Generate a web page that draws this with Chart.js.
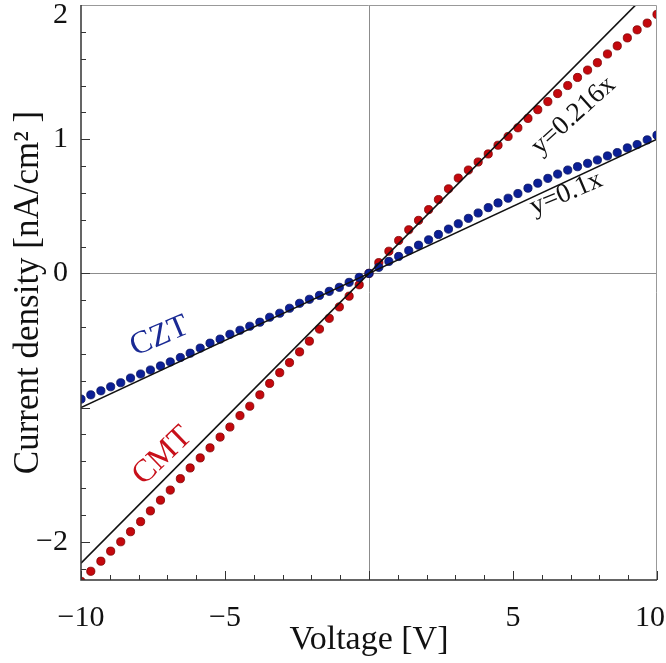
<!DOCTYPE html>
<html>
<head>
<meta charset="utf-8">
<script src="https://cdn.jsdelivr.net/npm/chart.js@4.4.1/dist/chart.umd.min.js"></script>
<style>
  html, body { margin: 0; padding: 0; background: #fff; }
</style>
</head>
<body>
<canvas id="ivChart" width="666" height="663"></canvas>
<script>
// bias voltage [V]
const voltage = [
    -10, -9.66, -9.31, -8.97, -8.62, -8.28, -7.93, -7.59, -7.24, -6.9,
    -6.55, -6.21, -5.86, -5.52, -5.17, -4.83, -4.48, -4.14, -3.79, -3.45,
    -3.1, -2.76, -2.41, -2.07, -1.72, -1.38, -1.03, -0.69, -0.34, 0,
    0.34, 0.69, 1.03, 1.38, 1.72, 2.07, 2.41, 2.76, 3.1, 3.45,
    3.79, 4.14, 4.48, 4.83, 5.17, 5.52, 5.86, 6.21, 6.55, 6.9,
    7.24, 7.59, 7.93, 8.28, 8.62, 8.97, 9.31, 9.66, 10
];

// current density [nA/cm2]
const cztCurrent = [
    -0.937, -0.905, -0.875, -0.845, -0.815, -0.78, -0.75, -0.72, -0.69, -0.66,
    -0.627, -0.595, -0.557, -0.52, -0.49, -0.454, -0.424, -0.394, -0.364, -0.327,
    -0.297, -0.26, -0.223, -0.193, -0.164, -0.134, -0.104, -0.067, -0.03, 0,
    0.045, 0.089, 0.126, 0.17, 0.21, 0.25, 0.29, 0.33, 0.37, 0.41,
    0.45, 0.49, 0.525, 0.56, 0.595, 0.635, 0.672, 0.708, 0.74, 0.77,
    0.795, 0.82, 0.845, 0.875, 0.9, 0.935, 0.96, 0.995, 1.03
];
const cmtCurrent = [
    -2.295, -2.22, -2.145, -2.07, -2.0, -1.925, -1.85, -1.77, -1.69, -1.615,
    -1.53, -1.45, -1.375, -1.3, -1.22, -1.145, -1.06, -0.99, -0.905, -0.82,
    -0.74, -0.665, -0.585, -0.505, -0.415, -0.335, -0.25, -0.17, -0.085, 0,
    0.08, 0.165, 0.245, 0.325, 0.395, 0.475, 0.55, 0.63, 0.71, 0.77,
    0.83, 0.89, 0.955, 1.02, 1.085, 1.155, 1.22, 1.28, 1.34, 1.4,
    1.46, 1.515, 1.57, 1.635, 1.695, 1.755, 1.815, 1.865, 1.93
];

// linear fits (end points)
const fitVoltage = [-10, 10];
const cztFit = [-1.0, 1.0];
const cmtFit = [-2.16, 2.16];

// ticks
const xTicks = [-10, -5, 0, 5, 10];
const xTickLabels = ['\u221210', '\u22125', '', '5', '10'];
const yTicks = [-2, -1, 0, 1, 2];
const yTickLabels = ['\u22122', '', '0', '1', '2'];

const serif = '"Liberation Serif", "Times New Roman", serif';

// text put on the plot, in data units
const notes = [
    { text: 'CZT', x: -7.27, y: -0.47, angle: -23, color: '#1a2a94', size: 32 },
    { text: 'CMT', x: -7.17, y: -1.36, angle: -44, color: '#c8101a', size: 32 },
    { text: 'y=0.216x', x: 7.1, y: 1.175, angle: -42, color: '#111', size: 27 },
    { text: 'y=0.1x', x: 6.85, y: 0.595, angle: -23, color: '#111', size: 27 }
];

function toPoints(xs, ys) {
    return xs.map((v, i) => ({ x: v, y: ys[i] }));
}

// frame, inward ticks, tick labels and notes
const framePlugin = {
    id: 'frame',
    afterDraw(chart) {
        const { ctx, chartArea: a } = chart;
        const x = chart.scales.x;
        const y = chart.scales.y;
        ctx.save();

        // minor / major ticks pointing inside
        ctx.strokeStyle = '#333';
        ctx.lineWidth = 1;
        ctx.beginPath();
        for (let v = -10; v <= 10; v++) {
            const px = Math.round(x.getPixelForValue(v)) + 0.5;
            const len = v % 5 === 0 ? 9 : 5;
            ctx.moveTo(px, a.bottom);
            ctx.lineTo(px, a.bottom - len);
        }
        for (let i = -11; i <= 10; i++) {
            const py = Math.round(y.getPixelForValue(i * 0.2)) + 0.5;
            const len = i % 5 === 0 ? 9 : 5;
            ctx.moveTo(a.left, py);
            ctx.lineTo(a.left + len, py);
        }
        ctx.stroke();

        // frame
        ctx.strokeStyle = '#999';
        ctx.beginPath();
        ctx.moveTo(a.left, a.top + 0.5);
        ctx.lineTo(a.right - 0.5, a.top + 0.5);
        ctx.lineTo(a.right - 0.5, a.bottom);
        ctx.stroke();
        ctx.strokeStyle = '#333';
        ctx.lineWidth = 1.5;
        ctx.beginPath();
        ctx.moveTo(a.left, a.top);
        ctx.lineTo(a.left, a.bottom);
        ctx.lineTo(a.right, a.bottom);
        ctx.stroke();

        // tick labels
        ctx.fillStyle = '#111';
        ctx.font = '30px ' + serif;
        ctx.textBaseline = 'middle';
        ctx.textAlign = 'center';
        xTicks.forEach((v, i) => {
            const w = ctx.measureText(xTickLabels[i]).width;
            const px = Math.min(x.getPixelForValue(v), chart.width - w / 2 - 1);
            ctx.fillText(xTickLabels[i], px, a.bottom + 38);
        });
        ctx.textAlign = 'right';
        yTicks.forEach((v, i) => {
            const py = Math.max(y.getPixelForValue(v), a.top + 10);
            ctx.fillText(yTickLabels[i], a.left - 13, py);
        });

        // notes
        ctx.textAlign = 'center';
        notes.forEach(n => {
            ctx.save();
            ctx.translate(x.getPixelForValue(n.x), y.getPixelForValue(n.y));
            ctx.rotate(n.angle * Math.PI / 180);
            ctx.fillStyle = n.color;
            ctx.font = n.size + 'px ' + serif;
            ctx.fillText(n.text, 0, 0);
            ctx.restore();
        });

        ctx.restore();
    }
};

const zeroLine = c => (c.tick && c.tick.value === 0 ? '#8c8c8c' : 'rgba(0,0,0,0)');

const chart = new Chart(document.getElementById('ivChart'), {
    type: 'scatter',
    data: {
        datasets: [
            {
                label: 'CZT fit',
                data: toPoints(fitVoltage, cztFit),
                showLine: true,
                borderColor: '#111',
                borderWidth: 1.6,
                pointRadius: 0,
                clip: 0,
                order: 0
            },
            {
                label: 'CMT fit',
                data: toPoints(fitVoltage, cmtFit),
                showLine: true,
                borderColor: '#111',
                borderWidth: 1.6,
                pointRadius: 0,
                clip: 0,
                order: 0
            },
            {
                label: 'CZT',
                data: toPoints(voltage, cztCurrent),
                pointRadius: 4.1,
                backgroundColor: '#0b1f96',
                borderColor: '#07125e',
                borderWidth: 0.8,
                clip: 0,
                order: 1
            },
            {
                label: 'CMT',
                data: toPoints(voltage, cmtCurrent),
                pointRadius: 4.1,
                backgroundColor: '#c4080d',
                borderColor: '#7d0000',
                borderWidth: 0.8,
                clip: 0,
                order: 1
            }
        ]
    },
    options: {
        responsive: false,
        animation: false,
        layout: { padding: { top: 5, right: 9, left: 0, bottom: 0 } },
        plugins: {
            legend: { display: false },
            tooltip: { enabled: false }
        },
        scales: {
            x: {
                type: 'linear',
                min: -10,
                max: 10,
                afterBuildTicks: s => { s.ticks = xTicks.map(v => ({ value: v })); },
                afterFit: s => { s.height = 83; },
                ticks: { display: false },
                grid: { drawTicks: false, color: zeroLine, lineWidth: 1 },
                border: { display: false },
                title: {
                    display: true,
                    text: 'Voltage [V]',
                    color: '#111',
                    font: { family: serif, size: 34 },
                    padding: { top: 0, bottom: 3 }
                }
            },
            y: {
                type: 'linear',
                min: -2.285,
                max: 2.0,
                afterBuildTicks: s => { s.ticks = yTicks.map(v => ({ value: v })); },
                afterFit: s => { s.width = 81; },
                ticks: { display: false },
                grid: { drawTicks: false, color: zeroLine, lineWidth: 1 },
                border: { display: false },
                title: {
                    display: true,
                    text: 'Current density [nA/cm\u00b2 ]',
                    color: '#111',
                    font: { family: serif, size: 35 },
                    padding: { top: 8, bottom: 0 }
                }
            }
        }
    },
    plugins: [framePlugin]
});
</script>
</body>
</html>
